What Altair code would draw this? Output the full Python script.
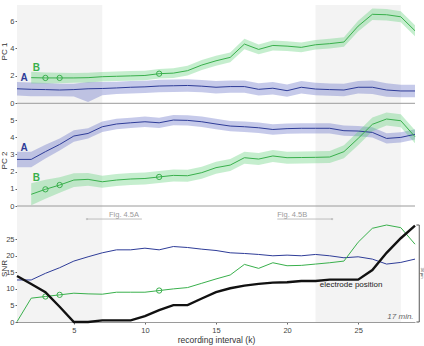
import altair as alt
import pandas as pd

# recording intervals
k = list(range(1, 30))
k_b = list(range(2, 30))          # PC traces of unit B start at interval 2
k_marked = [3, 4, 11]             # intervals marked with open circles on unit B

# PC 1 projections
pc1_a = [1.06, 1.02, 1.0, 0.97, 1.0, 1.06, 1.08, 1.12, 1.17, 1.2, 1.26, 1.28, 1.3, 1.25,
         1.17, 1.22, 1.22, 1.02, 1.1, 0.92, 1.17, 1.04, 1.0, 0.97, 1.17, 1.17, 0.97, 0.9, 0.9]
pc1_a_spread_hi = [0.5, 0.5, 0.48, 0.45, 0.42, 0.5, 0.48, 0.45, 0.45, 0.45, 0.45, 0.45, 0.45, 0.45,
                   0.45, 0.45, 0.45, 0.45, 0.45, 0.45, 0.45, 0.45, 0.45, 0.45, 0.45, 0.5, 0.5, 0.45, 0.45]
pc1_a_spread_lo = [0.5, 0.5, 0.48, 0.45, 0.5, 0.96, 0.5, 0.45, 0.45, 0.45, 0.45, 0.45, 0.45, 0.45,
                   0.45, 0.45, 0.45, 0.45, 0.45, 0.45, 0.45, 0.45, 0.45, 0.45, 0.45, 0.5, 0.5, 0.45, 0.45]
pc1_b = [1.87, 1.85, 1.85, 1.85, 1.87, 1.94, 1.97, 2.0, 2.03, 2.16, 2.2, 2.38, 2.79, 3.1,
         3.35, 4.32, 3.93, 4.22, 4.17, 4.08, 4.27, 4.35, 4.47, 5.63, 6.49, 6.46, 6.31, 5.29]
pc1_b_spread = [0.43, 0.4, 0.38, 0.36, 0.35, 0.35, 0.35, 0.35, 0.35, 0.35, 0.35, 0.35, 0.36, 0.36,
                0.36, 0.38, 0.36, 0.36, 0.35, 0.35, 0.35, 0.35, 0.35, 0.4, 0.42, 0.42, 0.4, 0.4]

# PC 2 projections
pc2_a = [2.71, 2.71, 3.16, 3.58, 4.07, 4.22, 4.61, 4.77, 4.84, 4.9, 4.84, 5.0, 4.98, 4.9,
         4.77, 4.65, 4.61, 4.55, 4.45, 4.5, 4.52, 4.52, 4.52, 4.38, 4.36, 4.28, 3.93, 3.99, 4.17]
pc2_a_spread = [0.45, 0.45, 0.4, 0.35, 0.33, 0.3, 0.3, 0.3, 0.3, 0.3, 0.3, 0.3, 0.3, 0.3,
                0.3, 0.3, 0.3, 0.3, 0.3, 0.3, 0.3, 0.3, 0.3, 0.3, 0.3, 0.3, 0.3, 0.3, 0.3]
pc2_b = [0.68, 0.97, 1.22, 1.51, 1.55, 1.41, 1.51, 1.57, 1.6, 1.69, 1.78, 1.76, 1.94, 2.23,
         2.38, 2.81, 2.73, 2.91, 2.81, 2.82, 2.83, 2.85, 3.16, 3.93, 4.75, 5.06, 4.96, 4.03]
pc2_b_spread = [0.64, 0.55, 0.45, 0.4, 0.37, 0.35, 0.35, 0.35, 0.35, 0.35, 0.35, 0.35, 0.35, 0.35,
                0.35, 0.35, 0.35, 0.35, 0.35, 0.35, 0.35, 0.35, 0.38, 0.4, 0.4, 0.38, 0.38, 0.38]

# signal-to-noise ratios and electrode depth
snr_a = [12.7, 12.7, 14.7, 16.4, 18.4, 19.7, 20.9, 21.8, 21.8, 22.3, 21.8, 22.8, 22.5, 22.0,
         21.6, 20.9, 20.7, 20.4, 20.0, 20.2, 20.0, 20.4, 20.0, 19.4, 19.7, 19.0, 17.5, 18.0, 19.0]
snr_b = [0.1, 7.2, 7.7, 8.2, 8.7, 8.5, 8.4, 9.0, 9.0, 9.0, 9.5, 10.0, 10.4, 11.7,
         13.0, 14.2, 17.4, 16.2, 17.9, 17.0, 17.1, 17.5, 17.9, 18.4, 24.1, 28.3, 29.3, 28.5, 23.5]
electrode = [13.9, 11.5, 9.0, 4.6, 0.0, 0.0, 0.5, 0.5, 0.5, 1.8, 3.6, 5.1, 5.1, 7.1,
             9.0, 10.2, 11.0, 11.5, 11.9, 12.0, 12.4, 12.4, 12.8, 12.8, 12.8, 15.7, 20.9, 25.3, 29.1]

# shaded intervals used for the detail figures
shade_start = [1, 22]
shade_end = [7, 28]

W, H = 398, 317
FONT = "Liberation Sans"
BLUE, BLUE_BAND = "#2e3c98", "#5b68c4"
GREEN, GREEN_BAND = "#39b04c", "#58cf72"
AXIS_GREY = "#9a9a9a"

df_a = pd.DataFrame({"k": k, "pc1": pc1_a,
                     "pc1_lo": [v - s for v, s in zip(pc1_a, pc1_a_spread_lo)],
                     "pc1_hi": [v + s for v, s in zip(pc1_a, pc1_a_spread_hi)],
                     "pc2": pc2_a,
                     "pc2_lo": [v - s for v, s in zip(pc2_a, pc2_a_spread)],
                     "pc2_hi": [v + s for v, s in zip(pc2_a, pc2_a_spread)],
                     "snr": snr_a})
df_b = pd.DataFrame({"k": k_b, "pc1": pc1_b,
                     "pc1_lo": [v - s for v, s in zip(pc1_b, pc1_b_spread)],
                     "pc1_hi": [v + s for v, s in zip(pc1_b, pc1_b_spread)],
                     "pc2": pc2_b,
                     "pc2_lo": [v - s for v, s in zip(pc2_b, pc2_b_spread)],
                     "pc2_hi": [v + s for v, s in zip(pc2_b, pc2_b_spread)]})
df_b_marked = df_b[df_b["k"].isin(k_marked)]
df_snr_b = pd.DataFrame({"k": k, "snr": snr_b})
df_snr_b_marked = df_snr_b[df_snr_b["k"].isin(k_marked)]
df_elec = pd.DataFrame({"k": k, "depth": electrode})
df_shade = pd.DataFrame({"start": shade_start, "end": shade_end})

x_scale = alt.Scale(domain=[1, 29], nice=False, zero=False)
x_axis = alt.Axis(values=[5, 10, 15, 20, 25], title="recording interval (k)", orient="bottom",
                  tickSize=2, labelPadding=2, titlePadding=2, grid=False,
                  domainColor=AXIS_GREY, tickColor="#666")
X = alt.X("k:Q", scale=x_scale, axis=x_axis)


def y_axis(values, title, title_y, domain_color):
    return alt.Axis(values=values, title=title, orient="left", titleY=title_y, titleX=-11,
                    titleBaseline="alphabetic", titleAngle=-90, titleFontSize=8,
                    tickSize=2, labelPadding=1,
                    grid=False, domainColor=domain_color, tickColor="#666", minExtent=0)


def panel(field, scale, axis):
    """Mean traces of units A and B with their spread bands."""
    Y = lambda f: alt.Y(f"{f}:Q", scale=scale, axis=axis)
    return [
        alt.Chart(df_a).mark_area(color=BLUE_BAND, opacity=0.35).encode(
            x=X, y=Y(f"{field}_lo"), y2=f"{field}_hi:Q"),
        alt.Chart(df_b).mark_area(color=GREEN_BAND, opacity=0.35).encode(
            x=X, y=Y(f"{field}_lo"), y2=f"{field}_hi:Q"),
        alt.Chart(df_a).mark_line(color=BLUE, strokeWidth=1).encode(x=X, y=Y(field)),
        alt.Chart(df_b).mark_line(color=GREEN, strokeWidth=1).encode(x=X, y=Y(field)),
        alt.Chart(df_b_marked).mark_point(color=GREEN, size=28, strokeWidth=1, filled=False,
                                          opacity=1).encode(x=X, y=Y(field)),
    ]


lab = dict(font=FONT, fontSize=10, fontWeight="bold", align="center", baseline="middle")

# ---------- PC 1 ----------
s1 = alt.Scale(domain=[0, 7.17], range=[98.3, 0], nice=False, zero=False)
a1 = y_axis([0, 2, 4, 6], "PC 1", 46, AXIS_GREY)
d1 = lambda v: alt.datum(v, scale=s1, axis=a1)
p1 = alt.layer(*panel("pc1", s1, a1),
    alt.Chart().mark_text(color=BLUE, text="A", **lab).encode(x=alt.datum(1.5), y=d1(1.84)),
    alt.Chart().mark_text(color=GREEN, text="B", **lab).encode(x=alt.datum(2.36), y=d1(2.57)),
    alt.Chart().mark_rule(color=AXIS_GREY, strokeWidth=1).encode(
        x=alt.datum(1), x2=alt.datum(29), y=d1(0)),
)

# ---------- PC 2 ----------
s2 = alt.Scale(domain=[0, 5.7], range=[201, 103], nice=False, zero=False)
a2 = y_axis([0, 1, 2, 3, 4, 5], "PC 2", 155, AXIS_GREY)
d2 = lambda v: alt.datum(v, scale=s2, axis=a2)
p2 = alt.layer(*panel("pc2", s2, a2),
    alt.Chart().mark_text(color=BLUE, text="A", **lab).encode(x=alt.datum(1.5), y=d2(3.39)),
    alt.Chart().mark_text(color=GREEN, text="B", **lab).encode(x=alt.datum(2.37), y=d2(1.65)),
    alt.Chart().mark_rule(color=AXIS_GREY, strokeWidth=1).encode(
        x=alt.datum(1), x2=alt.datum(29), y=d2(0)),
)

# ---------- SNR + electrode position ----------
s3 = alt.Scale(domain=[0, 29.3], range=[317, 220], nice=False, zero=False)
a3 = y_axis([0, 5, 10, 15, 20, 25], "SNR", 263, "#333333")
Y3 = lambda f: alt.Y(f"{f}:Q", scale=s3, axis=a3)
d3 = lambda v: alt.datum(v, scale=s3, axis=a3)
grey_txt = dict(font=FONT, fontSize=7.5, color="#9a9a9a", baseline="middle")
p3 = alt.layer(
    alt.Chart(df_a).mark_line(color=BLUE, strokeWidth=1).encode(x=X, y=Y3("snr")),
    alt.Chart(df_snr_b).mark_line(color=GREEN, strokeWidth=1).encode(x=X, y=Y3("snr")),
    alt.Chart(df_snr_b_marked).mark_point(color=GREEN, size=28, strokeWidth=1, filled=False,
                                          opacity=1).encode(x=X, y=Y3("snr")),
    alt.Chart(df_elec).mark_line(color="#111111", strokeWidth=2.4).encode(x=X, y=Y3("depth")),
    alt.Chart().mark_text(text="electrode position", font=FONT, fontSize=8, color="#222",
                          align="left", baseline="middle").encode(x=alt.datum(22.3), y=d3(11.2)),
    alt.Chart().mark_text(text="17 min.", font=FONT, fontSize=8, fontStyle="italic", color="#666",
                          align="right", baseline="middle").encode(x=alt.datum(28.9), y=d3(1.5)),
    # depth bracket on the right
    alt.Chart().mark_rule(color="#555", strokeWidth=1).encode(
        x=alt.datum(29.3), y=d3(0), y2=alt.datum(29.3)),
    alt.Chart().mark_rule(color="#555", strokeWidth=1).encode(
        x=alt.datum(29.1), x2=alt.datum(29.3), y=d3(29.3)),
    alt.Chart().mark_rule(color="#555", strokeWidth=1).encode(
        x=alt.datum(29.1), x2=alt.datum(29.3), y=d3(0)),
    alt.Chart().mark_text(text="34 µm", font=FONT, fontSize=4, color="#444", angle=90,
                          align="center", baseline="middle").encode(x=alt.datum(29.46), y=d3(14.8)),
    # pointers to the detail figures
    alt.Chart().mark_text(text="Fig. 4.5A", align="left", **grey_txt).encode(x=alt.datum(7.47), y=d3(32.3)),
    alt.Chart().mark_rule(color="#b0b0b0", strokeWidth=0.8).encode(
        x=alt.datum(5.92), x2=alt.datum(9.79), y=d3(31.1)),
    alt.Chart().mark_point(color="#b0b0b0", filled=True, size=5).encode(x=alt.datum(5.92), y=d3(31.1)),
    alt.Chart().mark_text(text="Fig. 4.5B", align="left", **grey_txt).encode(x=alt.datum(19.31), y=d3(32.3)),
    alt.Chart().mark_rule(color="#b0b0b0", strokeWidth=0.8).encode(
        x=alt.datum(19.31), x2=alt.datum(23.17), y=d3(31.1)),
    alt.Chart().mark_point(color="#b0b0b0", filled=True, size=5).encode(x=alt.datum(23.17), y=d3(31.1)),
)

shade = alt.Chart(df_shade).mark_rect(color="#f3f3f3").encode(
    x=alt.X("start:Q", scale=x_scale, axis=x_axis), x2="end:Q",
    y=alt.value(0), y2=alt.value(H))

chart = alt.layer(shade, p1, p2, p3).resolve_scale(y="independent").resolve_axis(
    y="independent").properties(
    width=W, height=H,
    padding={"left": 17, "top": 5, "right": 9, "bottom": 24},
    autosize=alt.AutoSizeParams(type="none"),
).configure_view(stroke=None).configure_axis(
    labelFont=FONT, titleFont=FONT, labelFontSize=7.5, titleFontSize=9,
    labelColor="#444", titleColor="#333", titleFontWeight="normal",
).configure_axisBottom(titleFontSize=8.5)

chart.save("out.html", embed_options={"renderer": "svg", "actions": False})
